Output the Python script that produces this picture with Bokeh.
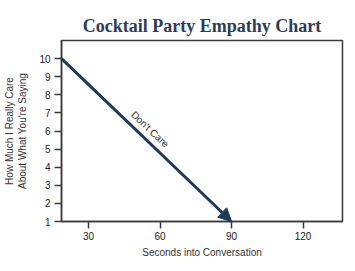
from bokeh.plotting import figure
from bokeh.models import Range1d, FixedTicker, Arrow, NormalHead, ColumnDataSource, Label
from bokeh.embed import file_html
from bokeh.resources import INLINE

# data
seconds = [18.65, 90]          # start / end of the arrow (x)
care = [10, 1]                 # start / end of the arrow (y)
x_ticks = [30, 60, 90, 120]
y_ticks = [1, 2, 3, 4, 5, 6, 7, 8, 9, 10]
label_text = "Don't Care"
label_x = [55.8]
label_y = [6.1]

p = figure(width=355, height=271, output_backend="svg", toolbar_location=None,
           x_range=Range1d(18.65, 136.55), y_range=Range1d(1, 11),
           min_border_left=61, min_border_right=13, min_border_top=40, min_border_bottom=50)
p.background_fill_color = "white"
p.border_fill_color = "white"
p.xgrid.visible = False
p.ygrid.visible = False
p.outline_line_color = "#3a3a3a"
p.outline_line_width = 1.5

p.title.text = "Cocktail Party Empathy Chart"
p.title.text_font = "Liberation Serif"
p.title.text_font_size = "18px"
p.title.text_font_style = "bold"
p.title.text_color = "#2d3c57"
p.title.align = "center"

for ax in (p.xaxis[0], p.yaxis[0]):
    ax.axis_line_color = "#3a3a3a"
    ax.axis_line_width = 1.5
    ax.major_tick_line_color = "#3a3a3a"
    ax.major_tick_line_width = 1.5
    ax.major_tick_in = 0
    ax.major_tick_out = 7
    ax.minor_tick_line_color = None
    ax.major_label_text_font = "Liberation Sans"
    ax.major_label_text_font_size = "10px"
    ax.major_label_text_color = "#222222"
    ax.axis_label_text_font = "Liberation Sans"
    ax.axis_label_text_font_size = "10px"
    ax.axis_label_text_font_style = "normal"
    ax.axis_label_text_color = "#333333"

p.xaxis.ticker = FixedTicker(ticks=x_ticks)
p.yaxis.ticker = FixedTicker(ticks=y_ticks)
p.xaxis.axis_label = "Seconds into Conversation"
p.yaxis.axis_label = "How Much I Really Care\nAbout What You're Saying"
p.xaxis.major_label_standoff = 3
p.yaxis.major_label_standoff = 4
p.xaxis.axis_label_standoff = 4
p.yaxis.axis_label_standoff = 8

src = ColumnDataSource(dict(x0=[seconds[0]], y0=[care[0]], x1=[seconds[1]], y1=[care[1]]))
arrow_col = "#1d3a5c"
p.add_layout(Arrow(x_start="x0", y_start="y0", x_end="x1", y_end="y1", source=src,
                   line_color=arrow_col, line_width=3,
                   end=NormalHead(size=13, fill_color=arrow_col, line_color=arrow_col, line_width=1)))

p.add_layout(Label(x=label_x[0], y=label_y[0], text=label_text, angle=-0.757,
                   text_font="Liberation Sans", text_font_size="10px", text_color="#333333",
                   text_align="center", text_baseline="middle"))

open("out.html", "w").write(file_html(p, INLINE))
